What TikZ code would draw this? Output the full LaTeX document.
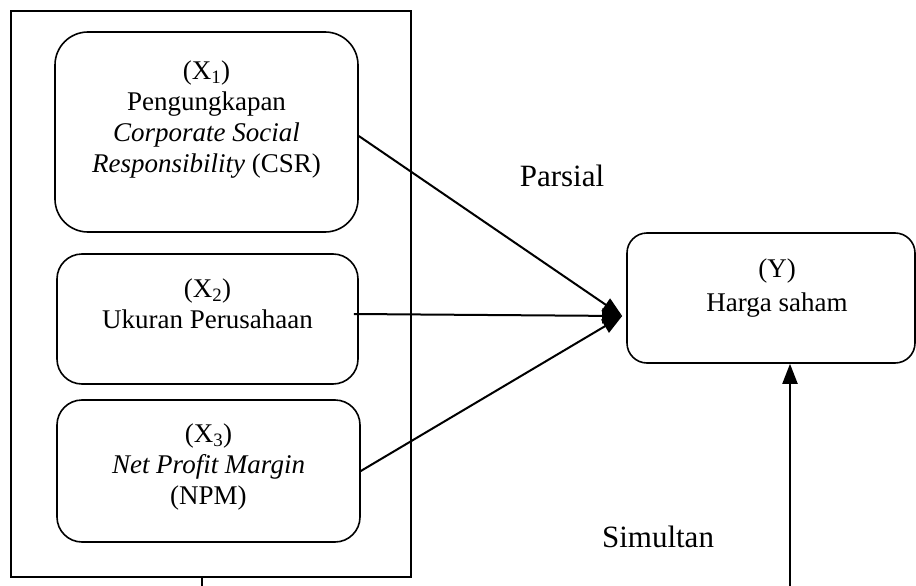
\documentclass[tikz,border=0pt]{standalone}
\usepackage{fontspec}
\setmainfont{Liberation Serif}
\usetikzlibrary{arrows.meta,positioning,calc}

\begin{document}
\begin{tikzpicture}[
  x=1pt, y=-1pt,
  font=\fontsize{27}{31}\selectfont,
  varbox/.style={draw, line width=1.6pt, inner sep=0pt, rounded corners=25pt},
  vartext/.style={align=center, inner sep=0pt},
  biglabel/.style={font=\fontsize{31}{36}\selectfont},
  arr/.style={-{Triangle[length=20pt,width=15pt]}, line width=2pt},
  link/.style={line width=1.6pt}
]
\useasboundingbox (0,0) rectangle (916,586);
% independent variables
\node[draw, line width=1.6pt, inner sep=0pt, minimum width=400pt, minimum height=566pt] (grp) at (211,294) {};
\node[varbox, rounded corners=33pt, minimum width=303pt, minimum height=200pt] (x1) at (206.5,132) {};
\node[varbox, minimum width=301pt, minimum height=130pt] (x2) at (207.5,319) {};
\node[varbox, minimum width=303pt, minimum height=142pt] (x3) at (208.5,471) {};
\node[vartext] (x1t) at (206.5,120) {(X\textsubscript{1})\\Pengungkapan\\\textit{Corporate Social}\\\textit{Responsibility} (CSR)};
\node[vartext] (x2t) at (207.5,304) {(X\textsubscript{2})\\Ukuran Perusahaan};
\node[vartext] (x3t) at (208.5,467) {(X\textsubscript{3})\\\textit{Net Profit Margin}\\(NPM)};
% dependent variable
\node[varbox, rounded corners=20pt, minimum width=288pt, minimum height=130pt] (y) at (771,298) {};
\node[vartext, font=\fontsize{27}{34}\selectfont] (yt) at (777,288) {(Y)\\Harga saham};
\node[biglabel] (par) at (562,176) {Parsial};
\node[biglabel] (sim) at (658,537) {Simultan};
\coordinate (tip) at ([xshift=-4pt,yshift=-18pt]y.west);
\coordinate (grpb) at (202,586);
\coordinate (simb) at (790,586);
\draw[arr] ([yshift=-4pt]x1.east) -- (tip);
\draw[arr] ([xshift=-5pt,yshift=5pt]x2.east) -- (tip);
\draw[arr] (x3.east) -- (tip);
\draw[link] ([xshift=-9pt]grp.south) -- (grpb);
\draw[arr] (simb) -- ([xshift=19pt]y.south);
\end{tikzpicture}
\end{document}
